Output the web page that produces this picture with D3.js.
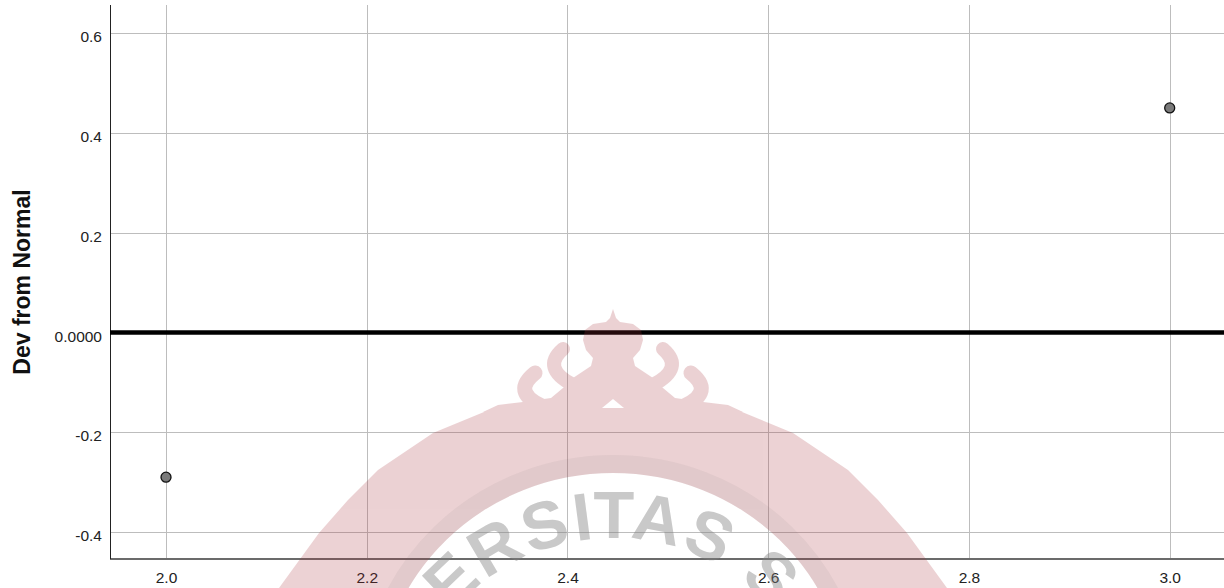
<!DOCTYPE html>
<html>
<head>
<meta charset="utf-8">
<script src="https://cdn.jsdelivr.net/npm/d3@7/dist/d3.min.js"></script>
<style>
  html, body { margin: 0; padding: 0; background: #fff; }
  svg { display: block; font-family: "Liberation Sans", Arial, sans-serif; }
</style>
</head>
<body>
<svg id="chart" width="1224" height="588"></svg>
<script>
// ---- data ----
const xTicks = [2.0, 2.2, 2.4, 2.6, 2.8, 3.0];
const xTickLabels = ["2.0", "2.2", "2.4", "2.6", "2.8", "3.0"];
const yTicks = [0.6, 0.4, 0.2, 0.0, -0.2, -0.4];
const yTickLabels = ["0.6", "0.4", "0.2", "0.0000", "-0.2", "-0.4"];
const observedValue = [2.0, 3.0];
const devFromNormal = [-0.29, 0.45];
const yAxisTitle = "Dev from Normal";
const xDomain = [1.9442, 3.0541];
const yDomain = [-0.454, 0.6563];
const watermarkLetters = ["E","R","S","I","T","A","S","S"];
const watermarkAngles = [-43.7, -30.3, -17, -7.5, 0.2, 11, 24.3, 42.3];

(function () {
const mLeft = 110, mRight = 1224, mTop = 5, mBottom = 559;

const svg = d3.select("#chart");
const x = d3.scaleLinear().domain(xDomain).range([mLeft, mRight]);
const y = d3.scaleLinear().domain(yDomain).range([mBottom, mTop]);

// vertical grid
const gx = svg.append("g")
  .attr("transform", `translate(0,${mBottom})`)
  .call(d3.axisBottom(x).tickValues(xTicks).tickSize(-(mBottom - mTop)).tickFormat(""));
gx.select(".domain").remove();
gx.selectAll("line").attr("stroke", "#bdbdbd").attr("stroke-width", 1).attr("shape-rendering", "crispEdges");

// horizontal grid
const gy = svg.append("g")
  .attr("transform", `translate(${mLeft},0)`)
  .call(d3.axisLeft(y).tickValues(yTicks.filter(v => v !== 0)).tickSize(-(mRight - mLeft)).tickFormat(""));
gy.select(".domain").remove();
gy.selectAll("line").attr("stroke", "#bdbdbd").attr("stroke-width", 1).attr("shape-rendering", "crispEdges");

// axis labels
const xl = svg.append("g")
  .attr("transform", `translate(0,${mBottom})`)
  .call(d3.axisBottom(x).tickValues(xTicks).tickSize(0).tickPadding(13.4)
    .tickFormat((d, i) => xTickLabels[i]));
xl.select(".domain").remove();
xl.selectAll("text").attr("font-size", 15.5).attr("fill", "#222")
  .attr("font-family", "Liberation Sans, Arial, sans-serif");

const yl = svg.append("g")
  .attr("transform", `translate(${mLeft},0)`)
  .call(d3.axisLeft(y).tickValues(yTicks).tickSize(0).tickPadding(8)
    .tickFormat((d, i) => yTickLabels[i]));
yl.select(".domain").remove();
yl.selectAll("text").attr("font-size", 15.5).attr("fill", "#222").attr("dy", "0.55em")
  .attr("font-family", "Liberation Sans, Arial, sans-serif");

// axis lines
svg.append("line").attr("x1", mLeft).attr("x2", mRight).attr("y1", mBottom).attr("y2", mBottom)
  .attr("stroke", "#6b6b6b").attr("stroke-width", 2);
svg.append("line").attr("x1", mLeft + 0.5).attr("x2", mLeft + 0.5).attr("y1", mTop).attr("y2", mBottom)
  .attr("stroke", "#222").attr("stroke-width", 1);

// zero reference line
svg.append("line").attr("x1", mLeft).attr("x2", mRight).attr("y1", y(0)).attr("y2", y(0))
  .attr("stroke", "#000").attr("stroke-width", 4.5);

// points
svg.append("g").selectAll("circle")
  .data(observedValue.map((v, i) => ({ v, d: devFromNormal[i] })))
  .join("circle")
  .attr("cx", p => x(p.v)).attr("cy", p => y(p.d)).attr("r", 5)
  .attr("fill", "#7a7a7a").attr("stroke", "#111").attr("stroke-width", 1.3);

// y title
svg.append("text")
  .attr("transform", `translate(29.5,${(mTop + mBottom) / 2}) rotate(-90)`)
  .attr("text-anchor", "middle")
  .attr("font-size", 23).attr("font-weight", "bold").attr("fill", "#111")
  .text(yAxisTitle);

// ---- watermark overlay (decorative) ----
const cx = 613;
const wm = svg.append("g").attr("opacity", 0.22).attr("pointer-events", "none");
const red = "#a8323c";
const ringHalf = [[112,405],[180,433],[235,470],[265,500],[294,533],[334,588],[350,620]];
const outerPts = ringHalf.map(p => [cx + p[0], p[1]])
  .concat(ringHalf.slice().reverse().map(p => [cx - p[0], p[1]]));
const ecx = cx, ecy = 700, erx = 235, ery = 227;
const ringPath = "M" + outerPts.map(p => p.join(",")).join("L") + "Z" +
  `M${ecx - erx},${ecy}a${erx},${ery} 0 1,0 ${2*erx},0a${erx},${ery} 0 1,0 ${-2*erx},0Z`;
wm.append("path").attr("d", ringPath).attr("fill", red).attr("fill-rule", "evenodd");
const crownHalf = [[0,309],[3,318],[7,322],[20,324],[28,330],[30,340],[27,350],[20,358],[22,366],[40,378],[50,388],[62,398],[90,402],[115,405],[130,412]];
const crownPts = crownHalf.map(p => [cx + p[0], p[1]])
  .concat(crownHalf.slice().reverse().map(p => [cx - p[0], p[1]]));
wm.append("path").attr("d", "M" + crownPts.map(p => p.join(",")).join("L") + "Z").attr("fill", red);
const flames = [
  { t: [50,349], c: [72,368], e: [40,385], w: 14 },
  { t: [78,373], c: [104,394], e: [64,409], w: 15 }
];
flames.forEach(f => {
  [1, -1].forEach(s => {
    wm.append("path")
      .attr("d", `M${cx + s*f.t[0]},${f.t[1]}Q${cx + s*f.c[0]},${f.c[1]} ${cx + s*f.e[0]},${f.e[1]}`)
      .attr("fill", "none").attr("stroke", red).attr("stroke-width", f.w).attr("stroke-linecap", "round");
  });
});
wm.append("path").attr("d", `M${cx},399L${cx+11},408L${cx-11},408Z`).attr("fill", "#fff");

svg.append("ellipse").attr("cx", ecx).attr("cy", ecy).attr("rx", erx + 9).attr("ry", ery + 9)
  .attr("fill", "none").attr("stroke", "#6a6a6a").attr("stroke-width", 18).attr("opacity", 0.07);

const wt = svg.append("g").attr("opacity", 0.42).attr("fill", "#808080");
watermarkLetters.forEach((ch, i) => {
  wt.append("text")
    .attr("transform", `translate(${cx},750) rotate(${watermarkAngles[i]}) translate(0,-212)`)
    .attr("text-anchor", "middle")
    .attr("font-size", 67).attr("font-weight", "bold")
    .text(ch);
});
})();
</script>
</body>
</html>
